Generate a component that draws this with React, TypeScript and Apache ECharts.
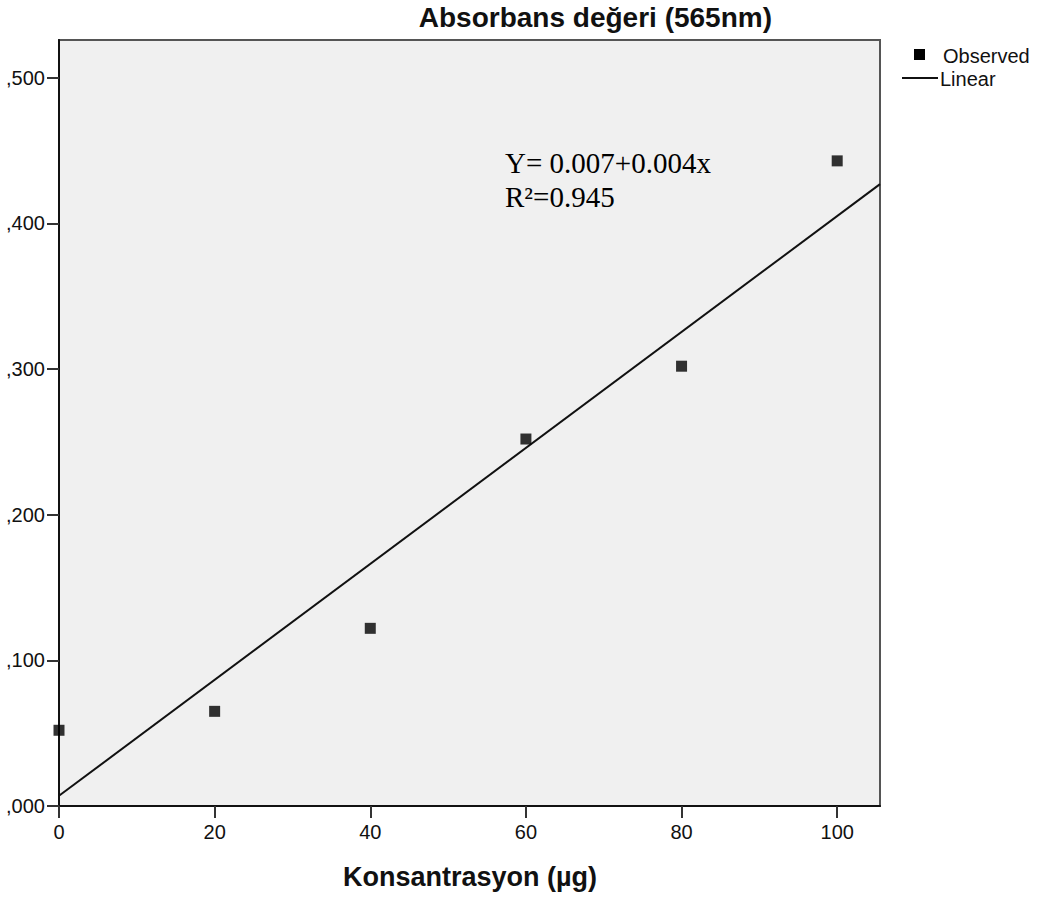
import React, { useEffect, useRef } from "react";
import * as echarts from "echarts";

const concentrations = [0, 20, 40, 60, 80, 100];
const absorbance = [0.052, 0.065, 0.122, 0.252, 0.302, 0.443];
const fitX = [0, 105.5];
const fitY = [0.007, 0.427];
const xTicks = [0, 20, 40, 60, 80, 100];
const yTicks = [0, 0.1, 0.2, 0.3, 0.4, 0.5];
const titleText = "Absorbans değeri (565nm)";
const xTitle = "Konsantrasyon (µg)";
const equationLines = ["Y= 0.007+0.004x", "R²=0.945"];
const legendNames = ["Observed", "Linear"];

const SANS = "'Liberation Sans', Arial, sans-serif";
const SERIF = "'Liberation Serif', 'Times New Roman', serif";

export default function App() {
  const ref = useRef<HTMLDivElement>(null);
  useEffect(() => {
    if (!ref.current) return;
    const chart = echarts.init(ref.current, null, { renderer: "svg" });
    const fmtY = (v: number) => "," + v.toFixed(3).split(".")[1];
    chart.setOption({
      animation: false,
      grid: {
        left: 59,
        top: 40,
        right: 159,
        bottom: 93,
        show: true,
        backgroundColor: "#f0f0f0",
        borderColor: "#555",
        borderWidth: 2,
      },
      xAxis: {
        type: "value",
        min: 0,
        max: 105.5,
        splitLine: { show: false },
        axisLine: { show: true, onZero: false, lineStyle: { color: "#111", width: 2 } },
        axisTick: { show: true, length: 12, lineStyle: { color: "#333", width: 2 }, customValues: xTicks },
        axisLabel: {
          customValues: xTicks,
          fontSize: 20,
          fontFamily: SANS,
          color: "#111",
          margin: 16,
          formatter: (v: number) => String(v),
        },
      },
      yAxis: {
        type: "value",
        min: 0,
        max: 0.526,
        splitLine: { show: false },
        axisLine: { show: true, onZero: false, lineStyle: { color: "#111", width: 2 } },
        axisTick: { show: true, length: 12, lineStyle: { color: "#333", width: 2 }, customValues: yTicks },
        axisLabel: {
          customValues: yTicks,
          fontSize: 20,
          fontFamily: SANS,
          color: "#111",
          margin: 14,
          formatter: (v: number) => fmtY(v),
        },
      },
      series: [
        {
          type: "line",
          name: legendNames[1],
          data: fitX.map((x, i) => [x, fitY[i]]),
          symbol: "none",
          lineStyle: { color: "#111", width: 2 },
          z: 2,
        },
        {
          type: "scatter",
          name: legendNames[0],
          data: concentrations.map((x, i) => [x, absorbance[i]]),
          symbol: "rect",
          symbolSize: 11,
          itemStyle: { color: "#000" },
          z: 3,
        },
      ],
      graphic: [
        {
          type: "text",
          x: 772,
          y: 17,
          style: {
            text: titleText,
            font: `bold 28px ${SANS}`,
            fill: "#111",
            align: "right",
            verticalAlign: "middle",
          },
        },
        {
          type: "text",
          x: 470,
          y: 877,
          style: {
            text: xTitle,
            font: `bold 27px ${SANS}`,
            fill: "#111",
            align: "center",
            verticalAlign: "middle",
          },
        },
        {
          type: "text",
          x: 505,
          y: 163,
          style: {
            text: equationLines[0],
            font: `29px ${SERIF}`,
            fill: "#000",
            align: "left",
            verticalAlign: "middle",
          },
        },
        {
          type: "text",
          x: 505,
          y: 197,
          style: {
            text: equationLines[1],
            font: `29px ${SERIF}`,
            fill: "#000",
            align: "left",
            verticalAlign: "middle",
          },
        },
        {
          type: "rect",
          shape: { x: 914, y: 49, width: 11, height: 11 },
          style: { fill: "#000" },
        },
        {
          type: "text",
          x: 943,
          y: 56,
          style: {
            text: legendNames[0],
            font: `20px ${SANS}`,
            fill: "#111",
            align: "left",
            verticalAlign: "middle",
          },
        },
        {
          type: "line",
          shape: { x1: 902, y1: 78, x2: 938, y2: 78 },
          style: { stroke: "#111", lineWidth: 2 },
        },
        {
          type: "text",
          x: 940,
          y: 79,
          style: {
            text: legendNames[1],
            font: `20px ${SANS}`,
            fill: "#111",
            align: "left",
            verticalAlign: "middle",
          },
        },
      ],
    });
    return () => chart.dispose();
  }, []);
  return (
    <div
      ref={ref}
      style={{ position: "absolute", left: 0, top: 0, width: 1039, height: 899, background: "#fff" }}
    />
  );
}
